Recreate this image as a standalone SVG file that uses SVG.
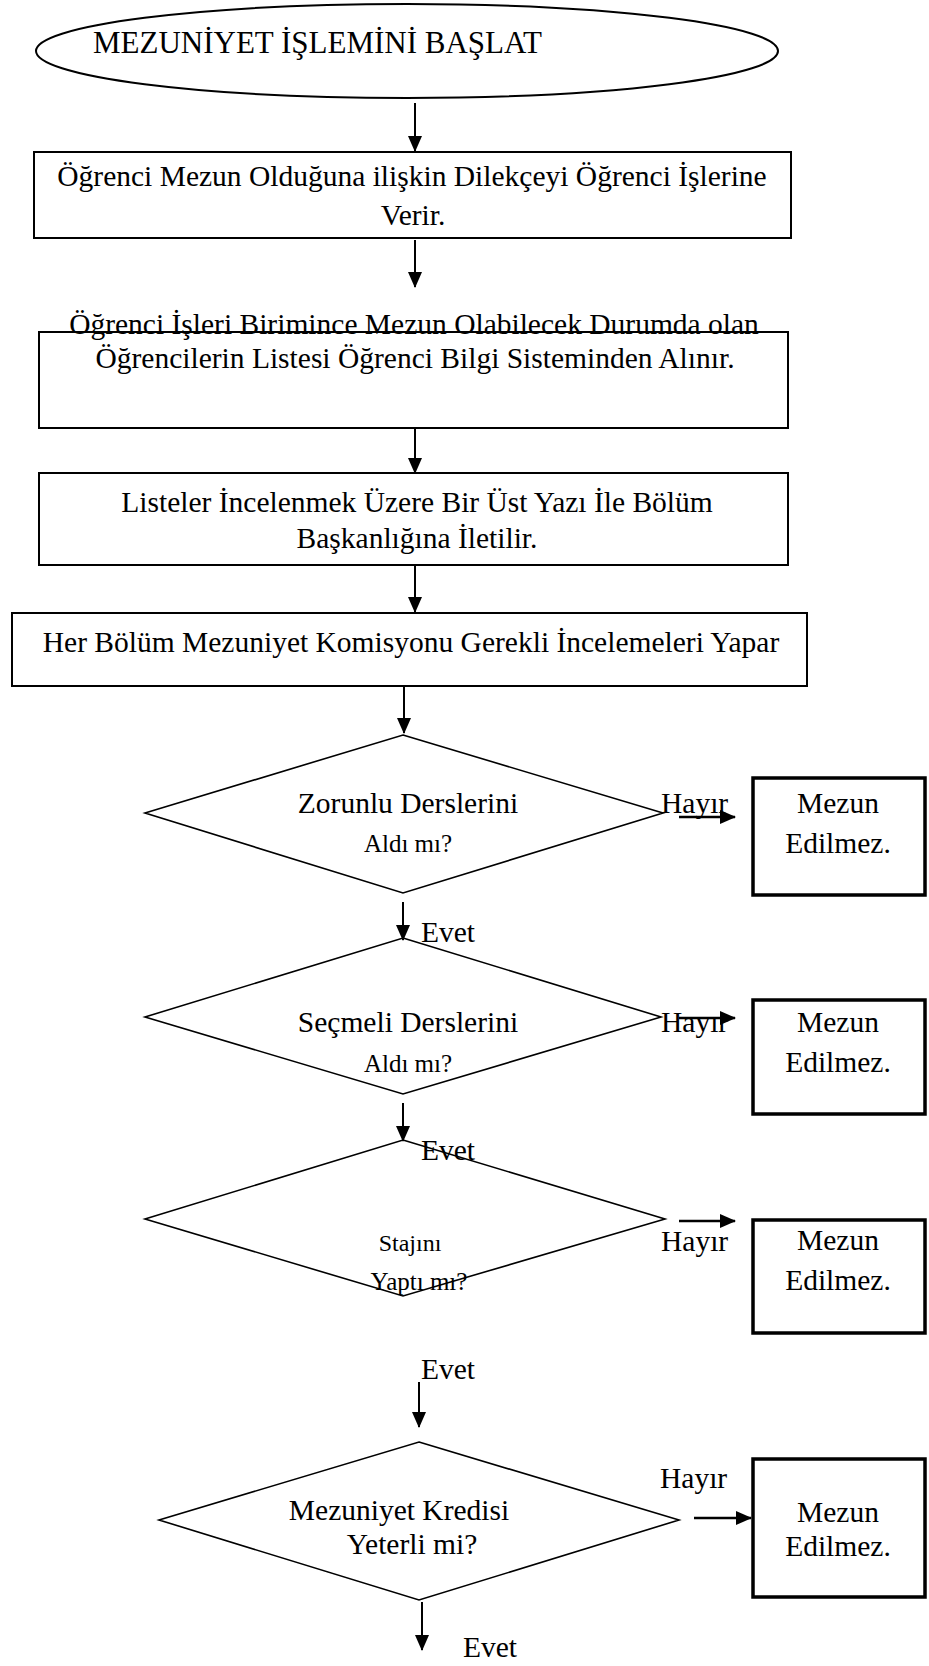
<svg xmlns="http://www.w3.org/2000/svg" width="929" height="1666" viewBox="0 0 929 1666">
  <style>
    text { font-family: "Liberation Serif", "Times New Roman", serif; fill: #000; }
    .title { font-size: 31px; }
    .t { font-size: 29.5px; }
    .s { font-size: 25px; }
    .xs { font-size: 24px; }
    .c { text-anchor: middle; }
    .box { fill: #fff; stroke: #000; stroke-width: 2; }
    .dia { fill: none; stroke: #000; stroke-width: 1.6; }
    .end { fill: #fff; stroke: #000; stroke-width: 3.5; }
    .v { stroke: #000; stroke-width: 2; fill: none; }
    .h { stroke: #000; stroke-width: 2.6; fill: none; }
  </style>
  <defs>
    <marker id="arrow" markerUnits="userSpaceOnUse" viewBox="0 0 16 14" markerWidth="16" markerHeight="14" refX="15" refY="7" orient="auto">
      <path d="M0,0 L16,7 L0,14 z" fill="#000"/>
    </marker>
  </defs>

  <rect width="929" height="1666" fill="#fff"/>

  <!-- start terminal -->
  <g id="start">
    <ellipse cx="407" cy="51" rx="371" ry="47" fill="#fff" stroke="#000" stroke-width="2"/>
    <text class="title" x="93" y="53">MEZUNİYET İŞLEMİNİ BAŞLAT</text>
  </g>

  <!-- process steps -->
  <g id="step1">
    <rect class="box" x="34" y="152" width="757" height="86"/>
    <text class="t c" x="412" y="186">Öğrenci Mezun Olduğuna ilişkin Dilekçeyi Öğrenci İşlerine</text>
    <text class="t c" x="413" y="225">Verir.</text>
  </g>

  <g id="step2">
    <rect class="box" x="39" y="332" width="749" height="96"/>
    <text class="t c" x="414" y="334">Öğrenci İşleri Birimince Mezun Olabilecek Durumda olan</text>
    <text class="t c" x="415" y="368">Öğrencilerin Listesi Öğrenci Bilgi Sisteminden Alınır.</text>
  </g>

  <g id="step3">
    <rect class="box" x="39" y="473" width="749" height="92"/>
    <text class="t c" x="417" y="512">Listeler İncelenmek Üzere Bir Üst Yazı İle Bölüm</text>
    <text class="t c" x="417" y="548">Başkanlığına İletilir.</text>
  </g>

  <g id="step4">
    <rect class="box" x="12" y="613" width="795" height="73"/>
    <text class="t c" x="411" y="652">Her Bölüm Mezuniyet Komisyonu Gerekli İncelemeleri Yapar</text>
  </g>

  <!-- decisions -->
  <g id="decision1">
    <polygon class="dia" points="403,735 663,813 403,893 145,813"/>
    <text class="t c" x="408" y="813">Zorunlu Derslerini</text>
    <text class="s c" x="408" y="852">Aldı mı?</text>
  </g>

  <g id="decision2">
    <polygon class="dia" points="403,938 661,1017 403,1094 145,1017"/>
    <text class="t c" x="408" y="1032">Seçmeli Derslerini</text>
    <text class="s c" x="408" y="1072">Aldı mı?</text>
  </g>

  <g id="decision3">
    <polygon class="dia" points="403,1140 665,1219 403,1296 145,1219"/>
    <text class="xs c" x="410" y="1251">Stajını</text>
    <text class="s c" x="419" y="1290">Yaptı mı?</text>
  </g>

  <g id="decision4">
    <polygon class="dia" points="419,1442 679,1520 419,1600 159,1520"/>
    <text class="t c" x="399" y="1520">Mezuniyet Kredisi</text>
    <text class="t c" x="412" y="1554">Yeterli mi?</text>
  </g>

  <!-- rejection outcomes -->
  <g id="reject1">
    <rect class="end" x="753" y="778" width="172" height="117"/>
    <text class="t c" x="838" y="813">Mezun</text>
    <text class="t c" x="838" y="853">Edilmez.</text>
  </g>

  <g id="reject2">
    <rect class="end" x="753" y="1000" width="172" height="114"/>
    <text class="t c" x="838" y="1032">Mezun</text>
    <text class="t c" x="838" y="1072">Edilmez.</text>
  </g>

  <g id="reject3">
    <rect class="end" x="753" y="1220" width="172" height="113"/>
    <text class="t c" x="838" y="1250">Mezun</text>
    <text class="t c" x="838" y="1290">Edilmez.</text>
  </g>

  <g id="reject4">
    <rect class="end" x="753" y="1459" width="172" height="138"/>
    <text class="t c" x="838" y="1522">Mezun</text>
    <text class="t c" x="838" y="1556">Edilmez.</text>
  </g>

  <!-- connectors -->
  <g id="connectors">
    <line class="v" x1="415" y1="103" x2="415" y2="151" marker-end="url(#arrow)"/>
    <line class="v" x1="415" y1="240" x2="415" y2="287" marker-end="url(#arrow)"/>
    <line class="v" x1="415" y1="428" x2="415" y2="473" marker-end="url(#arrow)"/>
    <line class="v" x1="415" y1="565" x2="415" y2="612" marker-end="url(#arrow)"/>
    <line class="v" x1="404" y1="686" x2="404" y2="733" marker-end="url(#arrow)"/>
    <line class="v" x1="403" y1="902" x2="403" y2="940" marker-end="url(#arrow)"/>
    <line class="v" x1="403" y1="1103" x2="403" y2="1141" marker-end="url(#arrow)"/>
    <line class="v" x1="419" y1="1382" x2="419" y2="1427" marker-end="url(#arrow)"/>
    <line class="v" x1="422" y1="1602" x2="422" y2="1650" marker-end="url(#arrow)"/>

    <line class="h" x1="679" y1="817" x2="735" y2="817" marker-end="url(#arrow)"/>
    <line class="h" x1="679" y1="1018" x2="735" y2="1018" marker-end="url(#arrow)"/>
    <line class="h" x1="679" y1="1221" x2="735" y2="1221" marker-end="url(#arrow)"/>
    <line class="h" x1="694" y1="1518" x2="751" y2="1518" marker-end="url(#arrow)"/>

    <text class="t" x="661" y="813">Hayır</text>
    <text class="t" x="661" y="1032">Hayır</text>
    <text class="t" x="661" y="1251">Hayır</text>
    <text class="t" x="660" y="1488">Hayır</text>

    <text class="t" x="421" y="942">Evet</text>
    <text class="t" x="421" y="1160">Evet</text>
    <text class="t" x="421" y="1379">Evet</text>
    <text class="t" x="463" y="1657">Evet</text>
  </g>
</svg>
